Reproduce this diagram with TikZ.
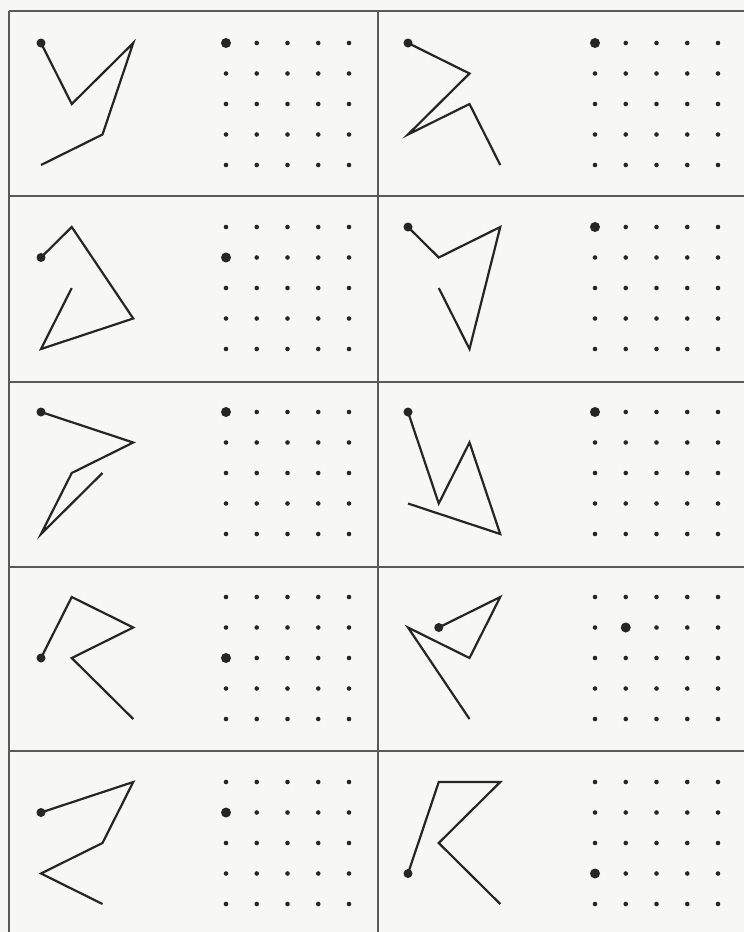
\documentclass[tikz,border=0pt]{standalone}
\definecolor{paper}{HTML}{F7F7F5}
\definecolor{ink}{HTML}{262626}
\definecolor{rule}{HTML}{5A5A5A}
\tikzset{
  figline/.style={line width=2.2pt, draw=ink, line join=miter, line cap=butt},
  frameline/.style={line width=1.1pt, draw=rule},
}
\newcommand\dotgrid[4]{% origin x, origin y, big col, big row
  \begin{scope}[shift={(#1,#2)}, x=30.75pt, y=-30.5pt]
    \foreach \i in {0,...,4}{\foreach \j in {0,...,4}{\fill[ink] (\i,\j) circle[radius=2.3pt];}}
    \fill[ink] (#3,#4) circle[radius=5pt];
  \end{scope}}
\newcommand\figpath[4]{% origin x, origin y, path, start
  \begin{scope}[shift={(#1,#2)}, x=30.75pt, y=-30.5pt]
    \draw[figline] #3;
    \fill[ink] #4 circle[radius=4.5pt];
  \end{scope}}
\begin{document}
\begin{tikzpicture}[x=1pt, y=-1pt]
\fill[paper] (0,0) rectangle (744,932);
\useasboundingbox (0,0) rectangle (744,932);
% frame
\foreach \yy in {11,196,382,567,751}{\draw[frameline] (9,\yy) -- (744,\yy);}
\draw[frameline] (9,11) -- (9,932);
\draw[frameline] (378,11) -- (378,932);
% row 1
\figpath{41}{43}{(0,0)--(1,2)--(3,0)--(2,3)--(0,4)}{(0,0)}
\dotgrid{226}{43}{0}{0}
\figpath{408}{43}{(0,0)--(2,1)--(0,3)--(2,2)--(3,4)}{(0,0)}
\dotgrid{595}{43}{0}{0}
% row 2
\figpath{41}{227}{(0,1)--(1,0)--(3,3)--(0,4)--(1,2)}{(0,1)}
\dotgrid{226}{227}{0}{1}
\figpath{408}{227}{(0,0)--(1,1)--(3,0)--(2,4)--(1,2)}{(0,0)}
\dotgrid{595}{227}{0}{0}
% row 3
\figpath{41}{412}{(0,0)--(3,1)--(1,2)--(0,4)--(2,2)}{(0,0)}
\dotgrid{226}{412}{0}{0}
\figpath{408}{412}{(0,0)--(1,3)--(2,1)--(3,4)--(0,3)}{(0,0)}
\dotgrid{595}{412}{0}{0}
% row 4
\figpath{41}{597}{(0,2)--(1,0)--(3,1)--(1,2)--(3,4)}{(0,2)}
\dotgrid{226}{597}{0}{2}
\figpath{408}{597}{(1,1)--(3,0)--(2,2)--(0,1)--(2,4)}{(1,1)}
\dotgrid{595}{597}{1}{1}
% row 5
\figpath{41}{782}{(0,1)--(3,0)--(2,2)--(0,3)--(2,4)}{(0,1)}
\dotgrid{226}{782}{0}{1}
\figpath{408}{782}{(0,3)--(1,0)--(3,0)--(1,2)--(3,4)}{(0,3)}
\dotgrid{595}{782}{0}{3}
\end{tikzpicture}
\end{document}
